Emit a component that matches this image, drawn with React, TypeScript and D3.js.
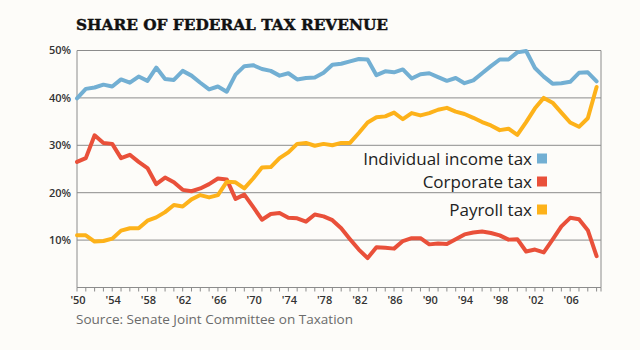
import React from "react";
import * as d3 from "d3";

const years: number[] = d3.range(1950, 2010);

const individualTax: number[] = [
  39.9, 41.9, 42.2, 42.8, 42.4, 43.9, 43.2, 44.5, 43.6, 46.4,
  44.0, 43.8, 45.7, 44.7, 43.2, 41.8, 42.4, 41.3, 44.9, 46.7,
  46.9, 46.1, 45.7, 44.7, 45.2, 43.9, 44.2, 44.3, 45.3, 47.0,
  47.2, 47.7, 48.2, 48.1, 44.8, 45.6, 45.4, 46.0, 44.1, 45.0,
  45.2, 44.4, 43.6, 44.2, 43.1, 43.7, 45.2, 46.7, 48.1, 48.1,
  49.6, 49.9, 46.3, 44.5, 43.0, 43.1, 43.4, 45.3, 45.4, 43.5,
];

const corporateTax: number[] = [
  26.5, 27.3, 32.1, 30.5, 30.3, 27.3, 28.0, 26.5, 25.2, 21.8,
  23.2, 22.2, 20.6, 20.3, 20.9, 21.8, 23.0, 22.8, 18.7, 19.6,
  17.0, 14.3, 15.5, 15.7, 14.7, 14.6, 13.9, 15.4, 15.0, 14.2,
  12.5, 10.2, 8.0, 6.2, 8.5, 8.4, 8.2, 9.8, 10.4, 10.4,
  9.1, 9.3, 9.2, 10.2, 11.2, 11.6, 11.8, 11.5, 11.0, 10.1,
  10.2, 7.6, 8.0, 7.4, 10.1, 12.9, 14.7, 14.4, 12.1, 6.6,
];

const payrollTax: number[] = [
  11.0, 11.0, 9.7, 9.8, 10.3, 12.0, 12.5, 12.5, 14.1, 14.8,
  15.9, 17.4, 17.1, 18.6, 19.5, 19.0, 19.5, 22.3, 22.2, 20.9,
  23.0, 25.3, 25.4, 27.3, 28.5, 30.3, 30.5, 29.9, 30.3, 30.0,
  30.5, 30.5, 32.6, 34.8, 35.9, 36.1, 36.9, 35.5, 36.8, 36.3,
  36.8, 37.5, 37.9, 37.1, 36.6, 35.8, 34.9, 34.2, 33.2, 33.5,
  32.2, 34.9, 37.8, 40.0, 39.0, 36.9, 34.8, 33.9, 35.7, 42.3,
];

const seriesNames: string[] = ["Individual income tax", "Corporate tax", "Payroll tax"];
const seriesColors: string[] = ["#72afd3", "#e9503a", "#fdb21a"];

const yTicks: number[] = [10, 20, 30, 40, 50];
const yTickLabels: string[] = ["10%", "20%", "30%", "40%", "50%"];
const xTickYears: number[] = d3.range(1950, 2010, 4);
const xTickLabels: string[] = ["'50", "'54", "'58", "'62", "'66", "'70", "'74", "'78", "'82", "'86", "'90", "'94", "'98", "'02", "'06"];

const title = "SHARE OF FEDERAL TAX REVENUE";
const source = "Source: Senate Joint Committee on Taxation";

export default function App() {
  const W = 640;
  const H = 350;
  const left = 77;
  const right = 601;
  const top = 50.5;
  const bottom = 287.5;

  const x = d3.scaleLinear().domain([1950, 2009.5]).range([left, right]);
  const y = d3.scaleLinear().domain([0, 50]).range([bottom, top]);

  const line = d3
    .line<number>()
    .x((_, i) => x(years[i]))
    .y((d) => y(d));

  const series = [individualTax, corporateTax, payrollTax];
  const sans = "'Open Sans', 'DejaVu Sans', sans-serif";
  const gridColor = "#8c8c8c";

  const legendY = [158.5, 181.5, 209.5];

  return (
    <svg
      width={W}
      height={H}
      style={{ position: "absolute", left: 0, top: 0, display: "block" }}
    >
      <rect x={0} y={0} width={W} height={H} fill="#fdfcf9" />
      <text
        x={76}
        y={30}
        fontFamily="'DejaVu Serif', serif"
        fontWeight="bold"
        fontSize={14.5}
        fill="#111"
        stroke="#111"
        strokeWidth={0.4}
        textLength={312}
        lengthAdjust="spacingAndGlyphs"
      >
        {title}
      </text>

      {/* gridlines */}
      {yTicks.map((t) => (
        <line key={t} x1={left} x2={right} y1={y(t)} y2={y(t)} stroke={gridColor} strokeWidth={1} />
      ))}
      {/* frame */}
      <line x1={left} x2={left} y1={top} y2={bottom} stroke={gridColor} strokeWidth={1} />
      <line x1={right} x2={right} y1={top} y2={bottom} stroke={gridColor} strokeWidth={1} />
      <line x1={left} x2={right} y1={bottom} y2={bottom} stroke={gridColor} strokeWidth={1} />
      {years.map((yr) => (
        <line key={yr} x1={x(yr)} x2={x(yr)} y1={bottom} y2={bottom + 4} stroke={gridColor} strokeWidth={1} />
      ))}
      <line x1={right} x2={right} y1={bottom} y2={bottom + 4} stroke={gridColor} strokeWidth={1} />

      {/* y labels */}
      {yTicks.map((t, i) => (
        <text
          key={t}
          x={71}
          y={y(t)}
          dy="0.35em"
          textAnchor="end"
          fontFamily={sans}
          fontWeight={600}
          fontSize={11}
          fill="#333"
        >
          {yTickLabels[i]}
        </text>
      ))}

      {/* x labels */}
      {xTickYears.map((yr, i) => (
        <text
          key={yr}
          x={x(yr) + 1}
          y={304}
          textAnchor="middle"
          fontFamily={sans}
          fontWeight={600}
          fontSize={11}
          fill="#333"
        >
          {xTickLabels[i]}
        </text>
      ))}

      {/* lines */}
      {series.map((s, i) => (
        <path
          key={seriesNames[i]}
          d={line(s) || ""}
          fill="none"
          stroke={seriesColors[i]}
          strokeWidth={4}
          strokeLinejoin="round"
          strokeLinecap="round"
        />
      ))}

      {/* legend */}
      {seriesNames.map((n, i) => (
        <g key={n}>
          <text
            x={532}
            y={legendY[i] + 6}
            textAnchor="end"
            fontFamily={sans}
            fontSize={17}
            fill="#222"
          >
            {n}
          </text>
          <rect x={537} y={legendY[i] - 5} width={10} height={10} fill={seriesColors[i]} />
        </g>
      ))}

      <text
        x={76}
        y={324}
        fontFamily={sans}
        fontSize={13}
        fill="#6b6b6b"
        textLength={277}
        lengthAdjust="spacingAndGlyphs"
      >
        {source}
      </text>
    </svg>
  );
}
